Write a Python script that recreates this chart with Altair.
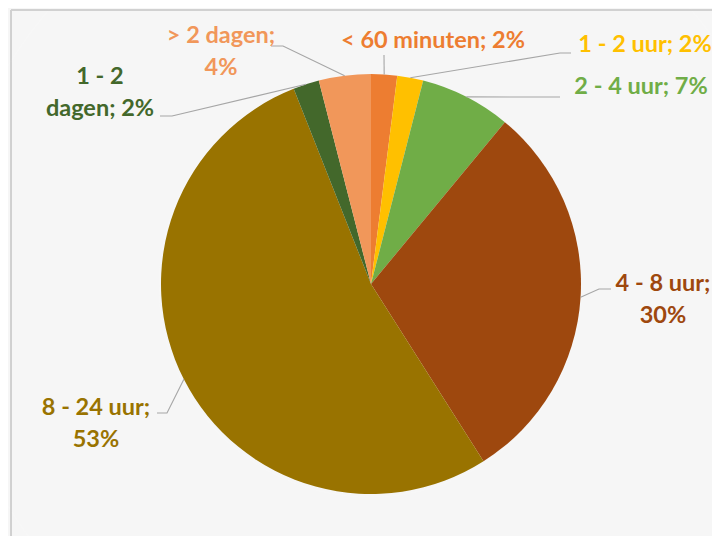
import math
import altair as alt
import pandas as pd

# ---- data ----
categories = ["< 60 minuten", "1 - 2 uur", "2 - 4 uur", "4 - 8 uur",
              "8 - 24 uur", "1 - 2 dagen", "> 2 dagen"]
percentages = [2, 2, 7, 30, 53, 2, 4]
colors = ["#ED7D31", "#FFC000", "#70AD47", "#9E480E",
          "#997300", "#43682B", "#F1975A"]

# ---- layout (page pixels) ----
CX, CY, R = 371, 284, 210
PAD_L, PAD_T = 3, 2
W, H = 701, 526
LINE_H = 32
FONT = "Lato"
FONT_SIZE = 23.5

label_layout = {
    "< 60 minuten": (433, 41, None),
    "1 - 2 uur": (645, 45, None),
    "2 - 4 uur": (641, 87, None),
    "4 - 8 uur": (663, 284, "; "),
    "8 - 24 uur": (96, 408, "; "),
    "1 - 2 dagen": (100, 77, "1 - 2 "),
    "> 2 dagen": (221, 36, "; "),
}
leader_layout = {
    "< 60 minuten": [(384, 55)],
    "1 - 2 uur": [(560, 53), (571, 53)],
    "2 - 4 uur": [(560, 97)],
    "4 - 8 uur": [(599, 289), (611, 289)],
    "8 - 24 uur": [(167, 413), (157, 413)],
    "1 - 2 dagen": [(172, 116), (160, 116)],
    "> 2 dagen": [(283, 46), (271, 46)],
}


def ux(px):
    return (px - CX) / R


def uy(py):
    return (CY - py) / R


x0 = 8 + PAD_L
y0 = 8 + PAD_T
xscale = alt.Scale(domain=[ux(x0), ux(x0 + W)], nice=False, zero=False)
yscale = alt.Scale(domain=[uy(y0 + H), uy(y0)], nice=False, zero=False)
color_scale = alt.Scale(domain=categories, range=colors)

# slices
starts, ends, acc = [], [], 0
for v in percentages:
    starts.append(acc)
    acc += v
    ends.append(acc)
total = acc
slices = pd.DataFrame({"cat": categories, "val": percentages,
                       "start": starts, "end": ends,
                       "cx": 0.0, "cy": 0.0})

theta_scale = alt.Scale(domain=[0, total], range=[0, 2 * math.pi])

pie = alt.Chart(slices).mark_arc(radius=R).encode(
    x=alt.X("cx:Q", scale=xscale, axis=None),
    y=alt.Y("cy:Q", scale=yscale, axis=None),
    theta=alt.Theta("start:Q", scale=theta_scale, stack=None),
    theta2="end:Q",
    color=alt.Color("cat:N", scale=color_scale, legend=None),
)

# soft shadow
shadow_rows = pd.DataFrame({"cx": [0.0] * 4, "cy": [0.0] * 4,
                            "r": [R + 1, R + 2.5, R + 4, R + 5.5]})
shadow = alt.Chart(shadow_rows).mark_arc(
    theta=0, theta2=2 * math.pi, color="#000000", opacity=0.035,
    xOffset=-1, yOffset=2,
).encode(
    x=alt.X("cx:Q", scale=xscale, axis=None),
    y=alt.Y("cy:Q", scale=yscale, axis=None),
    radius=alt.Radius("r:Q", scale=None),
)

# leader lines
lrows = []
for i, (c, v) in enumerate(zip(categories, percentages)):
    mid = (starts[i] + v / 2) / total * 2 * math.pi
    ex, ey = math.sin(mid), math.cos(mid)
    lrows.append({"cat": c, "o": 0, "x": ex, "y": ey})
    for j, (px, py) in enumerate(leader_layout[c]):
        lrows.append({"cat": c, "o": j + 1, "x": ux(px), "y": uy(py)})
leaders = alt.Chart(pd.DataFrame(lrows)).mark_line(
    color="#A6A6A6", strokeWidth=1.1
).encode(
    x=alt.X("x:Q", scale=xscale, axis=None),
    y=alt.Y("y:Q", scale=yscale, axis=None),
    detail="cat:N",
    order="o:Q",
)

# labels
trows = []
for c, v in zip(categories, percentages):
    label = f"{c}; {v}%"
    px, py, split = label_layout[c]
    if split:
        k = label.find(split) + len(split)
        lines = [label[:k].rstrip(), label[k:]]
    else:
        lines = [label]
    for j, line in enumerate(lines):
        trows.append({"cat": c, "t": line, "x": ux(px), "y": uy(py + j * LINE_H)})
labels = alt.Chart(pd.DataFrame(trows)).mark_text(
    font=FONT, fontSize=FONT_SIZE, fontWeight="bold",
    align="center", baseline="middle",
).encode(
    x=alt.X("x:Q", scale=xscale, axis=None),
    y=alt.Y("y:Q", scale=yscale, axis=None),
    text="t:N",
    color=alt.Color("cat:N", scale=color_scale, legend=None),
)

# chart border (top and left edges visible in the frame)
border_top = alt.Chart(slices).mark_rule(color="#D9D9D9", strokeWidth=1.6).encode(
    x=alt.value(0), x2=alt.value(W + 5), y=alt.value(0))
border_left = alt.Chart(slices).mark_rule(color="#D9D9D9", strokeWidth=1.6).encode(
    x=alt.value(0), y=alt.value(0), y2=alt.value(H + 5))

chart = alt.layer(border_top, border_left, shadow, pie, leaders, labels).properties(
    width=W, height=H,
    autosize=alt.AutoSizeParams(type="none"),
    padding={"left": PAD_L, "top": PAD_T, "right": 0, "bottom": 0},
    background="white",
).configure_view(stroke=None)

chart.save("out.html", embed_options={"renderer": "svg", "actions": False})
